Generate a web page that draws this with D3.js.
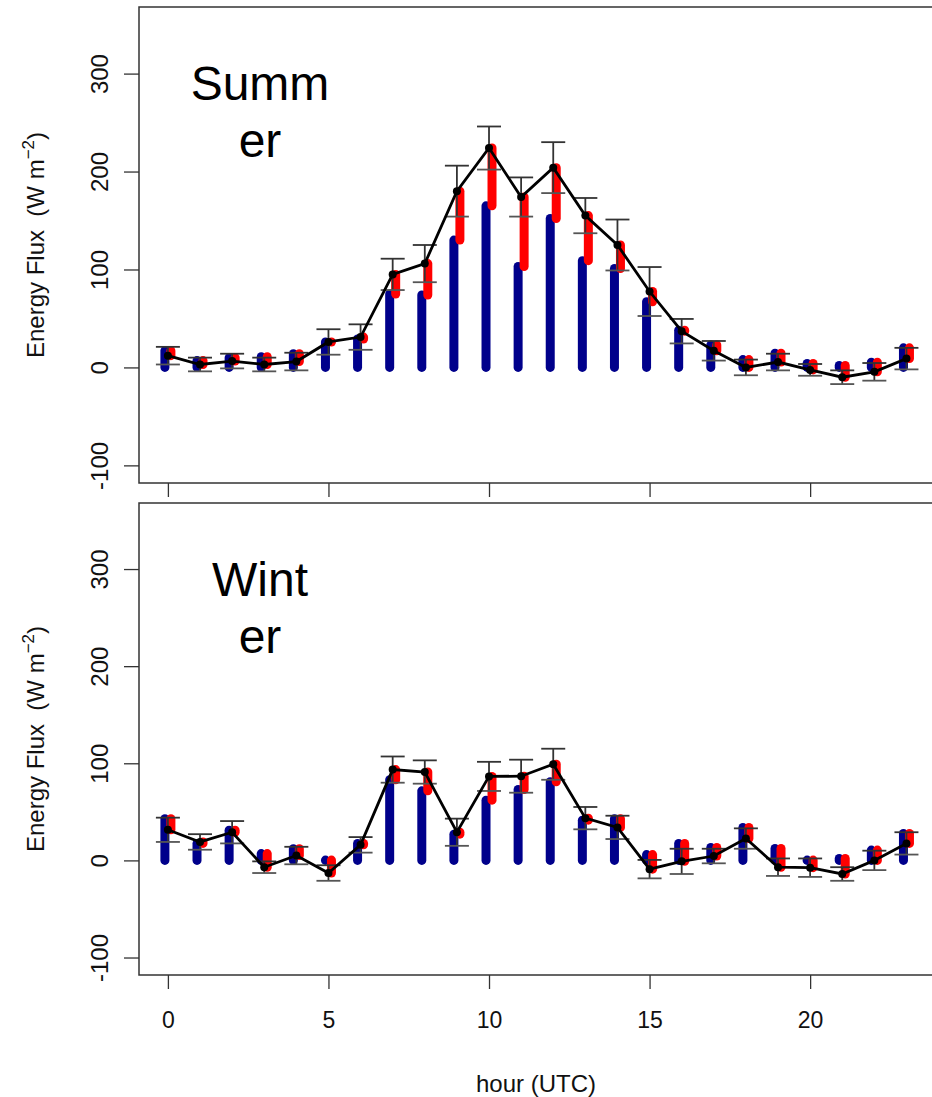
<!DOCTYPE html>
<html>
<head>
<meta charset="utf-8">
<script src="https://cdn.jsdelivr.net/npm/d3@7"></script>
<style>
  body { margin: 0; background: #fff; }
  svg { display: block; font-family: "Liberation Sans", Arial, Helvetica, sans-serif; }
</style>
</head>
<body>
<script>
// hours of the day
const hours = d3.range(0, 24);

// Summer: blue part (0 -> base), red part (base -> total), line = total, error bars = total +/- err
const summerBase  = [17, 7, 10, 11, 14, 26, 29, 75, 74, 130, 165, 103, 152, 109, 101, 67, 38, 23, 8, 14.6, 4, 2, 5.4, 20];
const summerTotal = [12, 3, 6.5, 3, 6, 26, 31, 95, 106, 180, 224, 174, 204, 155, 125, 77.5, 37, 17, 0, 5.5, -2.5, -10, -4.5, 9];
const summerErr   = [9, 7, 7.5, 7, 9, 13, 13, 16, 19, 26, 22, 20, 26, 18, 26, 25, 12.5, 10, 8, 8.5, 6, 7, 9, 11];

// Winter
const winterBase  = [43, 17.5, 31, 7, 12, 0.3, 17.5, 83, 71.6, 27, 62, 73, 81, 41.4, 43, 6, 17.5, 13.4, 34, 12.3, 0.3, 2, 10.6, 27.7];
const winterTotal = [31.5, 19, 29, -7, 5, -13, 16, 93.5, 91, 29, 86.5, 86.7, 99, 43.5, 34, -9, -1, 4.5, 22.5, -7, -7.5, -14, 0, 17.5];
const winterErr   = [12.5, 8, 11.5, 6, 9, 8, 8, 13.5, 12, 14, 15, 17, 16, 11.5, 12, 9.5, 13, 7.5, 10.5, 9, 9.5, 7, 10, 11.5];

const yTicks = [-100, 0, 100, 200, 300];
const xTicks = [0, 5, 10, 15, 20];

const W = 932, H = 1097;
const svg = d3.select('body').append('svg')
  .attr('width', W)
  .attr('height', H);

const x = d3.scaleLinear().domain([-0.9, 23.92]).range([139, 936]);

const panels = [
  {label: ['Summ', 'er'], top: 7, bottom: 483, base: summerBase, total: summerTotal, err: summerErr, showX: false},
  {label: ['Wint', 'er'], top: 503, bottom: 975, base: winterBase, total: winterTotal, err: winterErr, showX: true}
];

panels.forEach((p) => {
  const y = d3.scaleLinear().domain([-118, 368]).range([p.bottom, p.top]);
  const g = svg.append('g');

  // blue bars 0 -> base
  g.selectAll('line.blue').data(hours).join('line')
    .attr('class', 'blue')
    .attr('x1', (d) => x(d) - 3).attr('x2', (d) => x(d) - 3)
    .attr('y1', y(0)).attr('y2', (d) => y(p.base[d]))
    .attr('stroke', '#00008b').attr('stroke-width', 9).attr('stroke-linecap', 'round');

  // red bars base -> total
  g.selectAll('line.red').data(hours).join('line')
    .attr('class', 'red')
    .attr('x1', (d) => x(d) + 3).attr('x2', (d) => x(d) + 3)
    .attr('y1', (d) => y(p.base[d])).attr('y2', (d) => y(p.total[d]))
    .attr('stroke', '#ff0000').attr('stroke-width', 9).attr('stroke-linecap', 'round');

  // error bars
  const eb = g.selectAll('g.err').data(hours).join('g').attr('class', 'err')
    .attr('stroke', '#333').attr('stroke-width', 1.8);
  eb.append('line')
    .attr('x1', (d) => x(d)).attr('x2', (d) => x(d))
    .attr('y1', (d) => y(p.total[d] + p.err[d])).attr('y2', (d) => y(p.total[d] - p.err[d]));
  eb.append('line')
    .attr('x1', (d) => x(d) - 12).attr('x2', (d) => x(d) + 12)
    .attr('y1', (d) => y(p.total[d] + p.err[d])).attr('y2', (d) => y(p.total[d] + p.err[d]));
  eb.append('line')
    .attr('x1', (d) => x(d) - 12).attr('x2', (d) => x(d) + 12)
    .attr('y1', (d) => y(p.total[d] - p.err[d])).attr('y2', (d) => y(p.total[d] - p.err[d]))
    .attr('stroke', '#555');

  // mean line + points
  const line = d3.line().x((d) => x(d)).y((d) => y(p.total[d]));
  g.append('path').datum(hours)
    .attr('d', line)
    .attr('fill', 'none').attr('stroke', '#000').attr('stroke-width', 2.8);
  g.selectAll('circle').data(hours).join('circle')
    .attr('cx', (d) => x(d)).attr('cy', (d) => y(p.total[d]))
    .attr('r', 4).attr('fill', '#000');

  // box
  svg.append('rect')
    .attr('x', 139).attr('y', p.top)
    .attr('width', 936 - 139).attr('height', p.bottom - p.top)
    .attr('fill', 'none').attr('stroke', '#333').attr('stroke-width', 1.5);

  // y axis
  const gy = svg.append('g').attr('transform', 'translate(139,0)')
    .call(d3.axisLeft(y).tickValues(yTicks).tickSize(15).tickFormat((d) => String(d)));
  gy.select('.domain').remove();
  gy.selectAll('.tick line').attr('stroke', '#333').attr('stroke-width', 1.3);
  gy.selectAll('.tick text')
    .attr('transform', 'rotate(-90)')
    .attr('x', 0).attr('y', -31).attr('dy', 0)
    .attr('text-anchor', 'middle')
    .attr('font-size', 24).attr('fill', '#111')
    .attr('font-family', '"Liberation Sans", Arial, sans-serif');

  // x axis ticks
  const gx = svg.append('g').attr('transform', `translate(0,${p.bottom})`)
    .call(d3.axisBottom(x).tickValues(xTicks).tickSize(14).tickPadding(23));
  gx.select('.domain').remove();
  gx.selectAll('.tick line').attr('stroke', '#333').attr('stroke-width', 1.3);
  if (p.showX) {
    gx.selectAll('.tick text').attr('font-size', 23).attr('fill', '#111')
      .attr('font-family', '"Liberation Sans", Arial, sans-serif');
  } else {
    gx.selectAll('.tick text').remove();
  }

  // y axis title
  const cy = (p.top + p.bottom) / 2;
  const yt = svg.append('text')
    .attr('transform', `translate(44,${cy}) rotate(-90)`)
    .attr('text-anchor', 'middle')
    .attr('font-size', 24).attr('fill', '#111');
  yt.append('tspan').text('Energy Flux \u00a0(W m');
  yt.append('tspan').attr('dy', -10).attr('font-size', 17).text('\u22122');
  yt.append('tspan').attr('dy', 10).text(')');

  // season label
  svg.append('text').attr('x', 260).attr('y', p.top + 93)
    .attr('text-anchor', 'middle').attr('font-size', 48).attr('fill', '#000')
    .text(p.label[0]);
  svg.append('text').attr('x', 260).attr('y', p.top + 150)
    .attr('text-anchor', 'middle').attr('font-size', 48).attr('fill', '#000')
    .text(p.label[1]);
});

// x axis title
svg.append('text')
  .attr('x', 536).attr('y', 1092)
  .attr('text-anchor', 'middle')
  .attr('font-size', 24).attr('fill', '#111')
  .text('hour (UTC)');
</script>
</body>
</html>
